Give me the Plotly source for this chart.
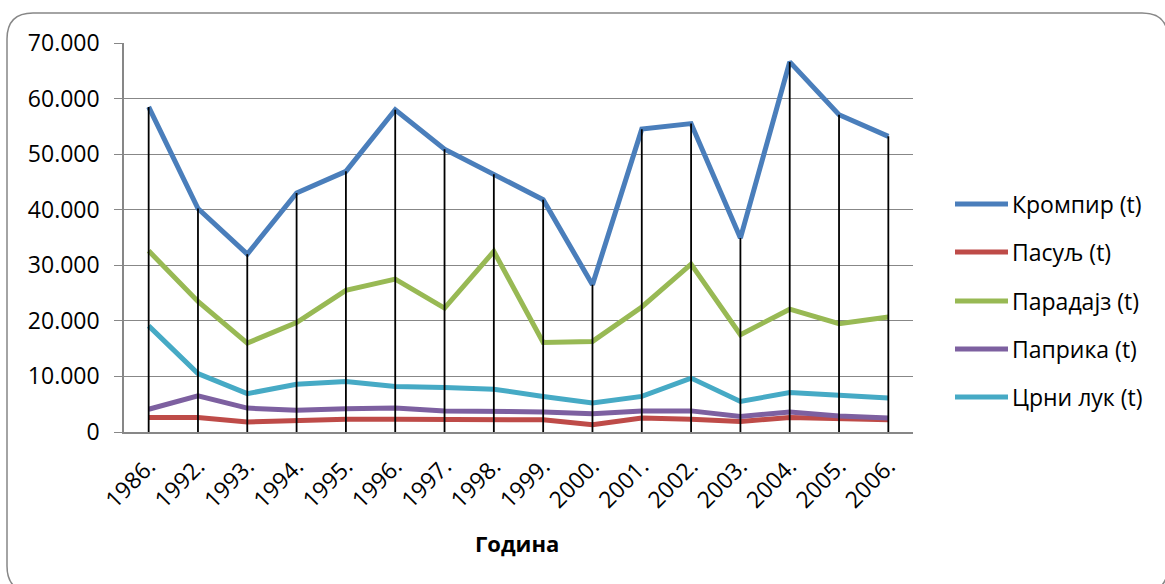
import plotly.graph_objects as go

# Production by year (tonnes)
years = ["1986.", "1992.", "1993.", "1994.", "1995.", "1996.", "1997.", "1998.",
         "1999.", "2000.", "2001.", "2002.", "2003.", "2004.", "2005.", "2006."]

krompir = [58500, 40200, 32000, 43000, 46900, 58000, 50900, 46400,
           41800, 26500, 54500, 55500, 34900, 66600, 57100, 53200]
pasulj = [2600, 2600, 1800, 2100, 2300, 2300, 2200, 2100,
          2200, 1300, 2500, 2300, 1900, 2600, 2400, 2200]
paradajz = [32600, 23500, 16000, 19700, 25500, 27500, 22300, 32500,
            16100, 16300, 22500, 30200, 17500, 22100, 19500, 20700]
paprika = [4100, 6500, 4300, 3900, 4200, 4300, 3800, 3800,
           3600, 3300, 3800, 3800, 2800, 3600, 2900, 2500]
crni_luk = [19100, 10500, 6900, 8600, 9100, 8200, 8000, 7700,
            6400, 5200, 6400, 9700, 5500, 7100, 6600, 6100]

series_names = ["Кромпир (t)", "Пасуљ (t)", "Парадајз (t)", "Паприка (t)", "Црни лук (t)"]
series_values = [krompir, pasulj, paradajz, paprika, crni_luk]
series_colors = ["#4A7EBB", "#BE4B48", "#98B954", "#7D60A0", "#46AAC5"]

y_ticks = [0, 10000, 20000, 30000, 40000, 50000, 60000, 70000]

W, H = 1165, 584
ML, MR, MT, MB = 124, 252, 43, 152
PW, PH = W - ML - MR, H - MT - MB
FONT = "Open Sans"
FS = 23


def px_x(px):
    return (px - ML) / PW


def px_y(py):
    return (H - MB - py) / PH


fig = go.Figure()

for name, vals, color in zip(series_names, series_values, series_colors):
    fig.add_trace(go.Scatter(
        x=years, y=vals, name=name, mode="lines",
        line=dict(color=color, width=5, shape="linear"),
        showlegend=False,
    ))

# Drop lines from the highest value of each year down to the axis
drop_x, drop_y = [], []
for i, yr in enumerate(years):
    top = max(v[i] for v in series_values)
    drop_x += [yr, yr, None]
    drop_y += [0, top, None]
fig.add_trace(go.Scatter(
    x=drop_x, y=drop_y, mode="lines",
    line=dict(color="#000000", width=1.8),
    showlegend=False, hoverinfo="skip",
))

shapes = []
annotations = []

# Rounded chart border
x0, x1, y0, y1, r = 7, 1168, 13, 592, 26
rx = r / PW
ry = r / PH
X0, X1, Y0, Y1 = px_x(x0), px_x(x1), px_y(y0), px_y(y1)
path = (f"M {X0 + rx},{Y0} L {X1 - rx},{Y0} Q {X1},{Y0} {X1},{Y0 - ry} "
        f"L {X1},{Y1 + ry} Q {X1},{Y1} {X1 - rx},{Y1} "
        f"L {X0 + rx},{Y1} Q {X0},{Y1} {X0},{Y1 + ry} "
        f"L {X0},{Y0 - ry} Q {X0},{Y0} {X0 + rx},{Y0} Z")
shapes.append(dict(type="path", xref="paper", yref="paper", path=path,
                   line=dict(color="#878787", width=1.5), layer="below"))

# Legend drawn at the right of the plot
leg_y = [204, 252, 301, 349, 397]
for name, color, ly in zip(series_names, series_colors, leg_y):
    shapes.append(dict(type="line", xref="paper", yref="paper",
                       x0=px_x(955), x1=px_x(1008), y0=px_y(ly), y1=px_y(ly),
                       line=dict(color=color, width=5)))
    annotations.append(dict(text=name, xref="paper", yref="paper",
                            x=px_x(1010), y=px_y(ly), xanchor="left", yanchor="middle",
                            showarrow=False, font=dict(family=FONT, size=FS, color="#000000")))

annotations.append(dict(text="<b>Година</b>", xref="paper", yref="paper",
                        x=px_x(517), y=px_y(543), xanchor="center", yanchor="middle",
                        showarrow=False, font=dict(family=FONT, size=22, color="#000000")))

fig.update_layout(
    width=W, height=H,
    margin=dict(l=ML, r=MR, t=MT, b=MB, pad=0),
    paper_bgcolor="#FFFFFF", plot_bgcolor="#FFFFFF",
    separators=",.",
    font=dict(family=FONT, size=FS, color="#000000"),
    shapes=shapes, annotations=annotations,
    showlegend=False,
    xaxis=dict(
        type="category", range=[-0.5, len(years) - 0.5], tickangle=-45, showgrid=False,
        showline=True, linecolor="#878787", linewidth=1.5,
        ticks="", ticklabelstandoff=10,
        tickfont=dict(family=FONT, size=FS, color="#000000"),
        zeroline=False,
    ),
    yaxis=dict(
        range=[0, 70000], tickvals=y_ticks, tickformat=",d",
        showgrid=True, gridcolor="#878787", gridwidth=1.3,
        showline=True, linecolor="#878787", linewidth=1.5,
        ticks="outside", ticklen=8, tickcolor="#878787", tickwidth=1.3,
        ticklabelstandoff=10,
        tickfont=dict(family=FONT, size=FS, color="#000000"),
        zeroline=False,
    ),
)

fig.write_html("out.html")
